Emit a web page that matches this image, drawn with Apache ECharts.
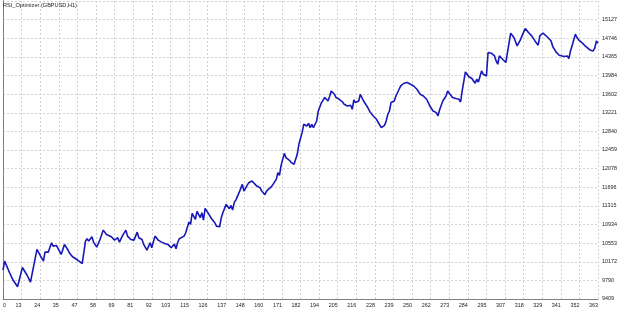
<!DOCTYPE html>
<html>
<head>
<meta charset="utf-8">
<script src="https://cdn.jsdelivr.net/npm/echarts@6/dist/echarts.min.js"></script>
<style>
html,body{margin:0;padding:0;background:#fff;}
#c{width:625px;height:311px;}
</style>
</head>
<body>
<div id="c"></div>
<script>
const chartTitle = 'RSI_Optimizer (GBPUSD,H1)';
const xLabels = ['0','13','24','35','47','58','69','81','92','103','115','126','137','148','160','171','182','194','205','216','228','239','250','262','273','284','295','307','318','329','341','352','363'];
const yLabels = ['9409','9790','10172','10553','10934','11315','11696','12078','12459','12840','13221','13602','13984','14365','14746','15127'];
const trades = [0,1,2,4,6,9,12,15,17,18,21,23,25,26,27,28,30,31,33,36,38,40,41,43,45,47,49,50,51,52,53,55,56,58,60,61,62,64,65,67,69,71,72,74,76,77,79,80,81,83,84,86,87,89,91,92,94,96,98,100,102,104,106,107,108,109,112,113,115,116,117,119,120,122,123,124,125,127,129,131,132,134,135,136,137,138,140,141,142,143,144,146,148,149,151,152,154,155,157,159,160,162,163,164,166,167,169,170,171,172,174,175,177,178,180,182,183,184,185,186,187,188,189,190,191,192,193,194,195,196,197,198,199,201,202,203,205,206,208,210,211,213,215,216,217,218,220,221,223,225,227,229,231,233,234,236,237,238,239,240,242,243,245,246,247,248,250,252,254,256,258,260,262,264,266,268,269,270,271,272,274,275,276,278,280,282,283,284,285,286,287,288,290,292,293,294,296,297,299,300,301,302,304,305,306,307,309,311,312,313,314,316,317,318,320,321,323,325,326,327,329,331,332,334,335,337,339,340,342,344,345,347,348,349,350,351,353,354,355,356,358,359,360,361,363,364,365,366,367,368];
const balance = [10000,10183,10151,9952,9809,9659,10054,9890,9753,9774,10423,10300,10183,10368,10341,10368,10560,10491,10505,10321,10526,10423,10356,10274,10233,10183,10136,10356,10593,10643,10593,10684,10573,10470,10628,10663,10819,10731,10765,10684,10614,10663,10573,10710,10819,10696,10628,10663,10614,10778,10663,10628,10526,10409,10560,10458,10696,10614,10573,10546,10526,10458,10532,10438,10560,10643,10696,10765,10983,10936,11161,11038,11202,11073,11175,11024,11263,11161,11052,10970,10901,10888,11073,11175,11140,11345,11257,11325,11229,11380,11433,11585,11755,11618,11735,11790,11823,11802,11720,11687,11618,11544,11618,11653,11708,11755,11858,11995,11940,12144,12390,12302,12253,12212,12165,12370,12575,12555,12814,12985,13005,12950,13005,12917,12985,12917,12950,13052,13257,13292,13429,13420,13532,13462,13552,13667,13599,13532,13497,13441,13394,13360,13374,13292,13482,13429,13462,13599,13462,13360,13237,13155,13087,12970,12917,12964,13052,13189,13257,13429,13462,13564,13702,13769,13757,13825,13839,13804,13769,13702,13599,13564,13497,13360,13257,13224,13155,13278,13306,13462,13564,13667,13646,13532,13511,13497,13441,13667,13634,14056,14044,13962,13921,13825,13907,13851,14077,14009,13974,14454,14419,14439,14384,14282,14214,14384,14316,14249,14454,14474,14849,14761,14726,14589,14712,14794,14945,14863,14829,14794,14691,14603,14794,14849,14829,14761,14691,14577,14466,14398,14419,14372,14351,14384,14331,14486,14712,14829,14761,14712,14658,14644,14589,14603,14507,14521,14486,14542,14691,14644];

const xStep = 11.5, xMax = 368;
const yMin = 9409, yStep = 381.2, yMax = yMin + 16 * yStep;
const font = 'Liberation Sans';
const gridLine = {show: true, lineStyle: {color: '#d2d2d2', type: [2, 2], width: 1}};

const chart = echarts.init(document.getElementById('c'), null, {renderer: 'canvas'});
chart.setOption({
  animation: false,
  backgroundColor: '#fff',
  title: {text: chartTitle, left: 3, top: 2, padding: 0,
    textStyle: {fontFamily: font, fontSize: 5.6, fontWeight: 'normal', color: '#222'}},
  grid: {left: 2, right: 27, top: 1, bottom: 12, containLabel: false},
  xAxis: {
    type: 'value', min: 0, max: xMax, interval: xStep,
    axisLine: {show: true, onZero: false, lineStyle: {color: '#808080', width: 1}},
    axisTick: {show: false},
    splitLine: gridLine,
    axisLabel: {
      fontFamily: font, fontSize: 5.4, color: '#222', margin: 4, align: 'right',
      alignMinLabel: 'left', showMaxLabel: true,
      formatter: function (v) {
        const k = Math.round(v / xStep);
        if (Math.abs(v - k * xStep) > 0.01) return '';
        return xLabels[k] !== undefined ? xLabels[k] : '';
      }
    }
  },
  yAxis: [{
    type: 'value', position: 'right', min: yMin, max: yMax, interval: yStep,
    axisLine: {show: true, lineStyle: {color: '#808080', width: 1}},
    axisTick: {show: false},
    splitLine: gridLine,
    axisLabel: {
      fontFamily: font, fontSize: 5.4, color: '#222', margin: 4, align: 'left',
      showMaxLabel: true,
      formatter: function (v) {
        const k = Math.round((v - yMin) / yStep);
        if (Math.abs(v - (yMin + k * yStep)) > 0.5) return '';
        return yLabels[k] !== undefined ? yLabels[k] : '';
      }
    }
  }, {
    type: 'value', position: 'left', min: yMin, max: yMax, interval: yStep,
    axisLine: {show: true, lineStyle: {color: '#808080', width: 1}},
    axisTick: {show: false}, axisLabel: {show: false}, splitLine: {show: false}
  }],
  series: [{
    type: 'line',
    yAxisIndex: 0,
    data: trades.map((t, i) => [t, balance[i]]),
    showSymbol: false,
    lineStyle: {color: '#1818b8', width: 1.6},
    itemStyle: {color: '#1818b8'}
  }]
});
</script>
</body>
</html>
